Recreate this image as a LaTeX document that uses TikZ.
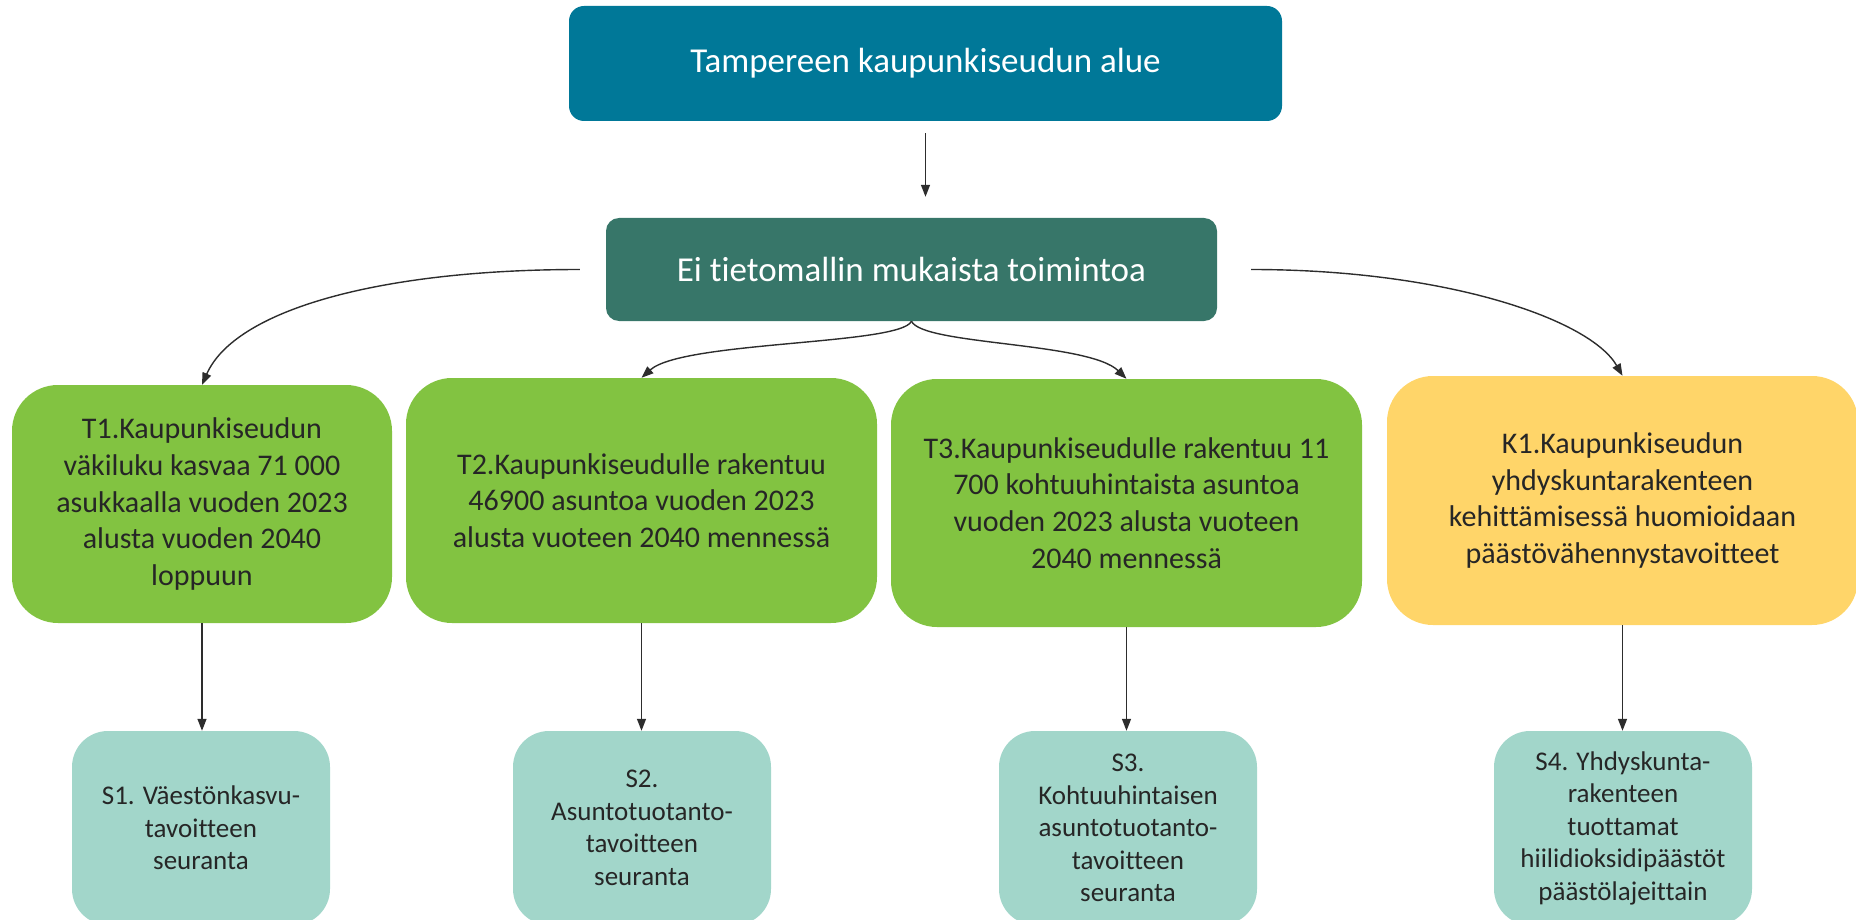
\documentclass[tikz,border=0pt]{standalone}
\usepackage{fontspec}
\setmainfont[Ligatures=NoCommon]{Carlito}
\usetikzlibrary{arrows.meta,calc}
\definecolor{areablue}{RGB}{0,120,152}
\definecolor{modelgreen}{RGB}{55,118,105}
\definecolor{goalgreen}{RGB}{130,195,65}
\definecolor{goalyellow}{RGB}{255,213,105}
\definecolor{followmint}{RGB}{162,214,202}
\definecolor{inkdark}{RGB}{38,38,38}
\definecolor{wire}{RGB}{45,45,45}
\begin{document}
\begin{tikzpicture}[x=1pt,y=-1pt,
  basebox/.style={inner sep=0pt, align=center},
  headbox/.style={basebox, rounded corners=15pt, text=white,
    font=\fontsize{35}{42}\selectfont},
  goalbox/.style={basebox, rounded corners=46pt, fill=goalgreen, text=inkdark,
    font=\fontsize{30}{36.7}\selectfont},
  followbox/.style={basebox, rounded corners=36pt, fill=followmint, text=inkdark,
    minimum width=258pt, minimum height=194pt,
    font=\fontsize{27}{32.5}\selectfont},
  link/.style={draw=wire, line width=1.4pt, -{Triangle[length=12pt,width=9pt]}}
]
\useasboundingbox (0,0) rectangle (1856,920);

% header boxes
\node[headbox, fill=areablue, minimum width=713pt, minimum height=115pt]
  (area) at (925.5,63.5) {Tampereen kaupunkiseudun alue};
\node[headbox, fill=modelgreen, rounded corners=13pt, minimum width=611pt, minimum height=103pt]
  (model) at (911.5,269.5) {Ei tietomallin mukaista toimintoa};

% goal boxes
\node[goalbox, minimum width=380pt, minimum height=238pt] (t1) at (202,504)
  {T1.Kaupunkiseudun\\väkiluku kasvaa 71 000\\asukkaalla vuoden 2023\\alusta vuoden 2040\\loppuun};
\node[goalbox, minimum width=471pt, minimum height=245pt] (t2) at (641.5,500.5)
  {T2.Kaupunkiseudulle rakentuu\\46900 asuntoa vuoden 2023\\alusta vuoteen 2040 mennessä};
\node[goalbox, minimum width=471pt, minimum height=248pt] (t3) at (1126.5,503)
  {T3.Kaupunkiseudulle rakentuu 11\\700 kohtuuhintaista asuntoa\\vuoden 2023 alusta vuoteen\\2040 mennessä};
\node[goalbox, fill=goalyellow, minimum width=471pt, minimum height=249pt] (k1) at (1622.5,500.5)
  {K1.Kaupunkiseudun\\yhdyskuntarakenteen\\kehittämisessä huomioidaan\\päästövähennystavoitteet};

% follow-up boxes
\node[followbox] (s1) at (201,828) {S1. Väestönkasvu-\\tavoitteen\\seuranta};
\node[followbox] (s2) at (642,828) {S2.\\Asuntotuotanto-\\tavoitteen\\seuranta};
\node[followbox] (s3) at (1128,828) {S3.\\Kohtuuhintaisen\\asuntotuotanto-\\tavoitteen\\seuranta};
\node[followbox] (s4) at (1623,828) {S4. Yhdyskunta-\\rakenteen\\tuottamat\\hiilidioksidipäästöt\\päästölajeittain};

% connectors
\draw[link, shorten <=12pt, shorten >=21pt] (area.south) -- (area.south |- model.north);
\draw[link, shorten <=26pt] (model.west) .. controls +(-226,0) and +(33,-75) .. (t1.north);
\draw[link] (model.south) .. controls +(-11,24) and +(41,-37) .. (t2.north);
\draw[link] (model.south) .. controls +(11,24) and +(-38,-37) .. (t3.north);
\draw[link, shorten <=34pt] (model.east) .. controls +(230,0) and +(-32,-56) .. (k1.north);
\draw[link] (t1.south) -- (t1.south |- s1.north);
\draw[link] (t2.south) -- (t2.south |- s2.north);
\draw[link] (t3.south) -- (t3.south |- s3.north);
\draw[link] (k1.south) -- (k1.south |- s4.north);
\end{tikzpicture}
\end{document}
